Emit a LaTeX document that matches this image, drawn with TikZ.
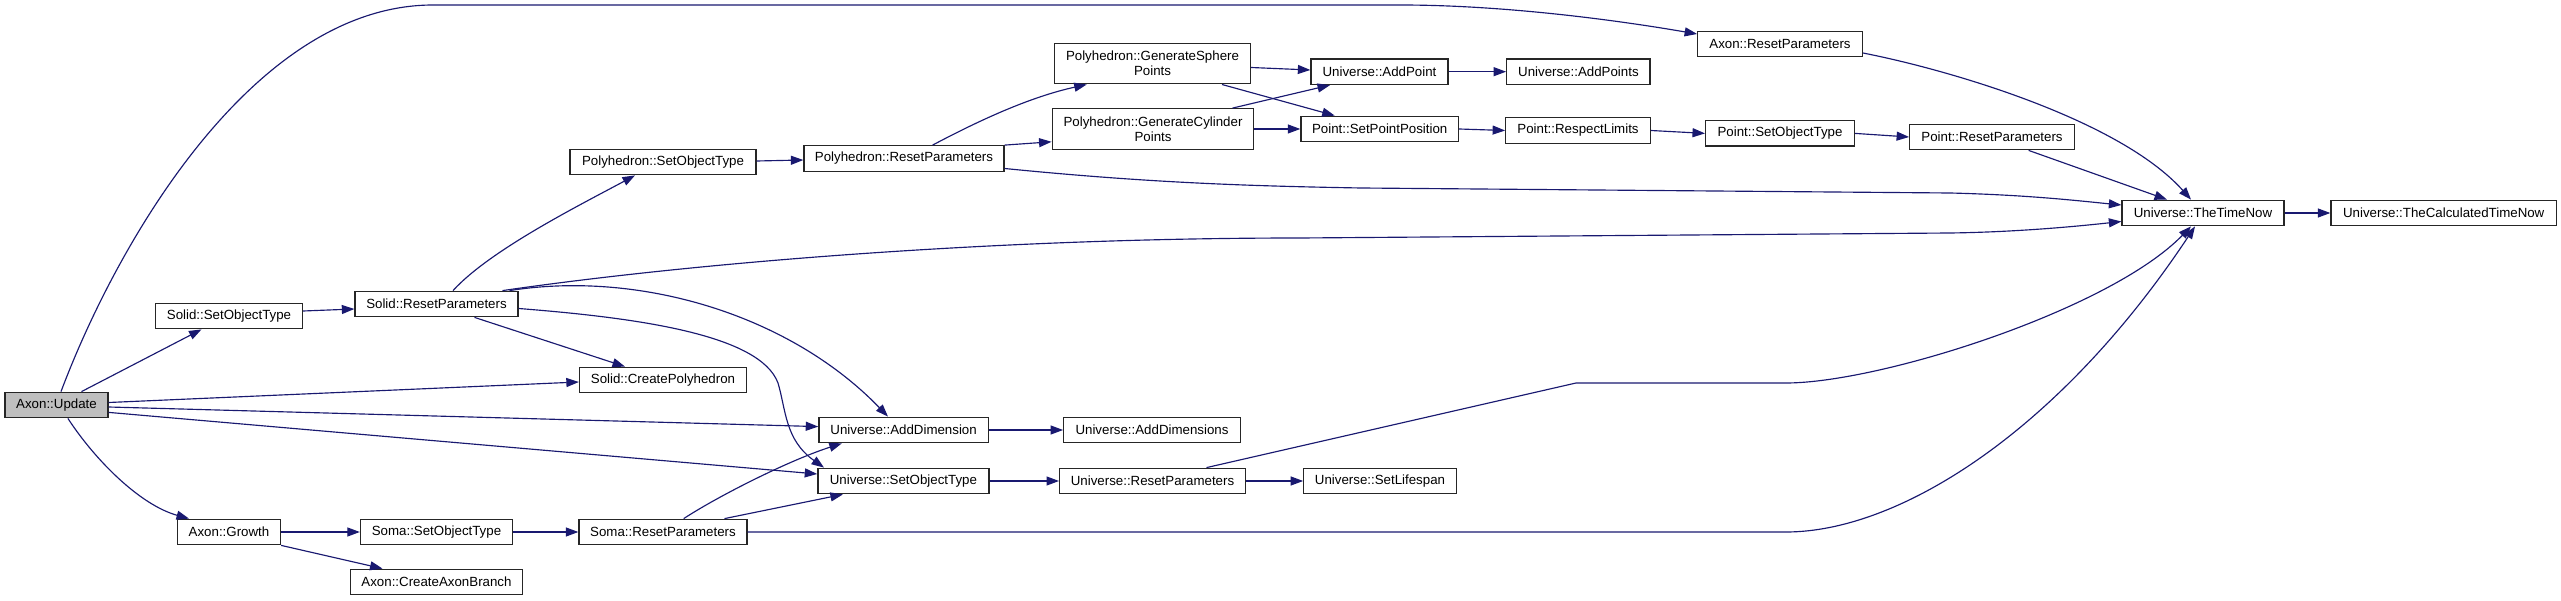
\documentclass[tikz,border=0pt]{standalone}
\usepackage{fontspec}
\setmainfont{Liberation Sans}
\usetikzlibrary{arrows.meta}
\definecolor{edgec}{HTML}{191970}
\definecolor{boxgray}{HTML}{BFBFBF}
\begin{document}
\begin{tikzpicture}[x=1pt,y=-1pt,
 box/.style={draw=black!85, line width=1.3pt, fill=white, inner sep=0pt, minimum height=25.5pt, font=\fontsize{13.3}{15}\selectfont, align=center},
 tall/.style={minimum height=40.5pt},
 edge/.style={draw=edgec, line width=1.15pt, -{Triangle[length=12.5pt,width=9pt]}},
]
\useasboundingbox (0,0) rectangle (2561,601);
% nodes
\node[box, fill=boxgray, minimum width=103pt] (upd) at (56.5,405) {Axon::Update};
\node[box, minimum width=147pt] (sso) at (229,316) {Solid::SetObjectType};
\node[box, minimum width=163pt] (srp) at (436.5,304) {Solid::ResetParameters};
\node[box, minimum width=186pt] (pso) at (663,162) {Polyhedron::SetObjectType};
\node[box, minimum width=167pt] (scp) at (663,380) {Solid::CreatePolyhedron};
\node[box, minimum width=103pt] (gro) at (229,532) {Axon::Growth};
\node[box, minimum width=152pt] (sos) at (436.5,532) {Soma::SetObjectType};
\node[box, minimum width=168pt] (srm) at (663,532) {Soma::ResetParameters};
\node[box, minimum width=172pt] (cab) at (436.5,582) {Axon::CreateAxonBranch};
\node[box, minimum width=200pt] (prp) at (904,158.5) {Polyhedron::ResetParameters};
\node[box, tall, minimum width=196pt] (gsp) at (1152.5,63.6) {Polyhedron::GenerateSphere\\Points};
\node[box, tall, minimum width=201.6pt] (gcp) at (1153,129) {Polyhedron::GenerateCylinder\\Points};
\node[box, minimum width=169.4pt] (uad) at (903.6,430) {Universe::AddDimension};
\node[box, minimum width=176.5pt] (uads) at (1152,430) {Universe::AddDimensions};
\node[box, minimum width=171pt] (uso) at (903.4,481) {Universe::SetObjectType};
\node[box, minimum width=185.7pt] (urp) at (1152.5,481) {Universe::ResetParameters};
\node[box, minimum width=164.5pt] (arp) at (1780,44) {Axon::ResetParameters};
\node[box, minimum width=137pt] (uap) at (1379.5,71.7) {Universe::AddPoint};
\node[box, minimum width=143.3pt] (uaps) at (1578.4,71.7) {Universe::AddPoints};
\node[box, minimum width=157.5pt] (psp) at (1379.7,129) {Point::SetPointPosition};
\node[box, minimum width=144.5pt] (prl) at (1578,130.5) {Point::RespectLimits};
\node[box, minimum width=148.7pt] (pst) at (1780,133.4) {Point::SetObjectType};
\node[box, minimum width=164.5pt] (ptr) at (1992,137) {Point::ResetParameters};
\node[box, minimum width=162pt] (utn) at (2203,213) {Universe::TheTimeNow};
\node[box, minimum width=225.4pt] (uctn) at (2443.7,213) {Universe::TheCalculatedTimeNow};
\node[box, minimum width=152.4pt] (usl) at (1380,481) {Universe::SetLifespan};
% edges
\draw[edge] ([xshift=4.5pt]upd.north) .. controls (118,240) and (255,5) .. (433,5) -- (1400,5) .. controls (1500,5) and (1610,19) .. ([yshift=10pt]arp.west);
\draw[edge] ([xshift=25pt]upd.north) -- ([xshift=-27.5pt]sso.south);
\draw[edge] ([yshift=2.5pt]upd.east) -- ([yshift=-2pt]scp.west);
\draw[edge] ([yshift=-2pt]upd.east) -- ([yshift=3.4pt]uad.west);
\draw[edge] ([yshift=-7.4pt]upd.east) -- ([yshift=7pt]uso.west);
\draw[edge] ([xshift=11.4pt]upd.south) .. controls (95,460) and (140,505) .. ([xshift=-40pt]gro.north);
\draw[edge] ([yshift=5pt]sso.east) -- ([yshift=-5pt]srp.west);
\draw[edge] ([xshift=16.5pt]srp.north) .. controls (490,250) and (580,205) .. ([xshift=-28pt]pso.south);
\draw[edge] ([xshift=66pt]srp.north) .. controls (700,262) and (1000,238) .. (1300,238) -- (1950,233) .. controls (2020,232) and (2080,226) .. ([yshift=-8.5pt]utn.west);
\draw[edge] ([xshift=73pt]srp.north) .. controls (640,270) and (790,315) .. ([xshift=-15.6pt]uad.north);
\draw[edge] ([yshift=-4.5pt]srp.east) .. controls (640,318) and (760,335) .. (778,383) .. controls (786,410) and (785,440) .. ([xshift=-79.4pt]uso.north);
\draw[edge] ([xshift=38pt]srp.south) -- ([xshift=-38pt]scp.north);
\draw[edge] ([yshift=1pt]pso.east) -- ([yshift=-1.5pt]prp.west);
\draw[edge] ([xshift=28.6pt]prp.north) .. controls (980,120) and (1030,97) .. ([xshift=-65.8pt]gsp.south);
\draw[edge] (prp.north east) -- ([yshift=-12.8pt]gcp.west);
\draw[edge] ([yshift=-10pt]prp.east) .. controls (1150,183) and (1250,186) .. (1361,188) -- (1950,193) .. controls (2030,195) and (2080,201) .. ([yshift=8pt]utn.west);
\draw[edge] ([yshift=-3.9pt]gsp.east) -- ([yshift=1.7pt]uap.west);
\draw[edge] ([xshift=69.5pt]gsp.south) -- ([xshift=-45pt]psp.north);
\draw[edge] ([xshift=79.5pt]gcp.north) -- ([xshift=-49.5pt]uap.south);
\draw[edge] (gcp.east) -- (psp.west);
\draw[edge] (uap.east) -- (uaps.west);
\draw[edge] (psp.east) -- (prl.west);
\draw[edge] (prl.east) -- (pst.west);
\draw[edge] (pst.east) -- (ptr.west);
\draw[edge] ([xshift=36.6pt]ptr.south) -- ([xshift=-36pt]utn.north);
\draw[edge] ([yshift=-9pt]arp.east) .. controls (1950,70) and (2120,120) .. ([xshift=-12pt]utn.north);
\draw[edge] (utn.east) -- (uctn.west);
\draw[edge] (uad.east) -- (uads.west);
\draw[edge] (uso.east) -- (urp.west);
\draw[edge] (urp.east) -- (usl.west);
\draw[edge] ([xshift=54pt]urp.north) -- (1576,383) -- (1786,383) .. controls (1880,383) and (2110,310) .. ([xshift=-12pt]utn.south);
\draw[edge] (srm.east) -- (1786,532) .. controls (1900,532) and (2060,430) .. ([xshift=-8pt]utn.south);
\draw[edge] ([xshift=20.7pt]srm.north) .. controls (720,495) and (790,460) .. ([xshift=-61.8pt]uad.south);
\draw[edge] ([xshift=61.5pt]srm.north) -- ([xshift=-60.5pt]uso.south);
\draw[edge] (gro.east) -- (sos.west);
\draw[edge] (sos.east) -- (srm.west);
\draw[edge] (gro.south east) -- ([xshift=-54pt]cab.north);
\end{tikzpicture}
\end{document}
